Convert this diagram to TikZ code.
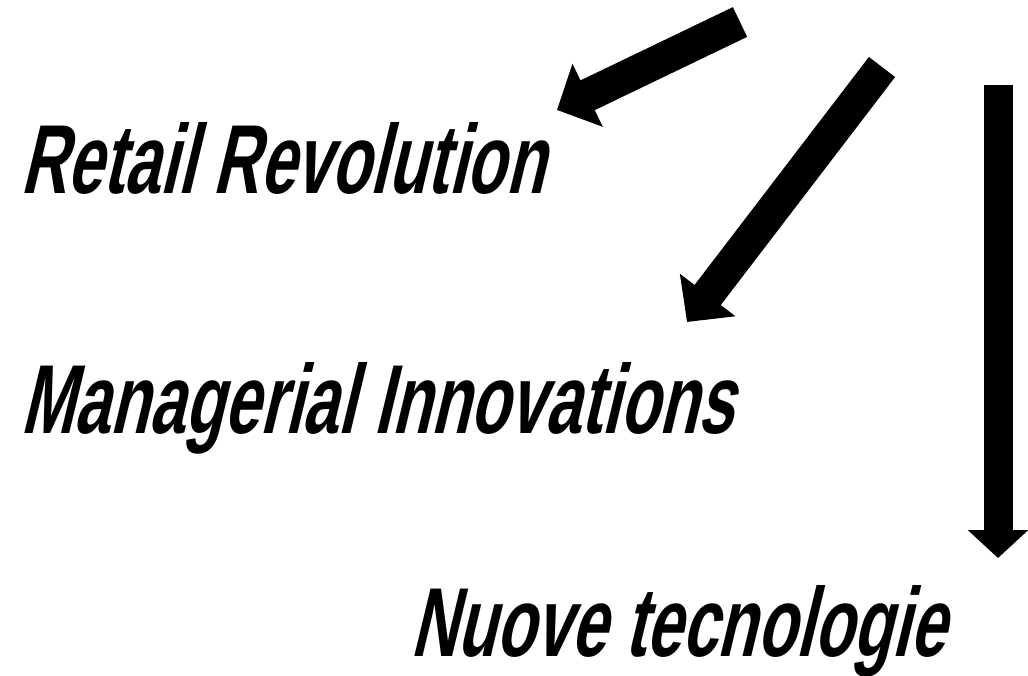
\documentclass[tikz,border=0pt]{standalone}
\usepackage{fontspec}
\newfontfamily\condfont[FakeSlant=0.24,FakeStretch=0.655]{Liberation Sans}
\usetikzlibrary{arrows.meta}
\begin{document}
\begin{tikzpicture}
[
    x=1pt, y=-1pt,
    label text/.style={anchor=base west, inner sep=0pt, font=\condfont\bfseries\fontsize{98}{98}\selectfont},
    big arrow/.style={line width=33pt, -{Triangle[width=68pt,length=34pt]}},
    thin arrow/.style={line width=29pt, -{Triangle[width=59pt,length=28pt]}},
]
\useasboundingbox (0,0) rectangle (1028,676);
\node[label text] (retail) at (20,194) {Retail Revolution};
\node[label text] (managerial) at (20,433) {Managerial Innovations};
\node[label text] (nuove) at (410,656) {Nuove tecnologie};
% arrows
\coordinate (tail1) at (740,22);
\coordinate (tip1) at (557,110);
\coordinate (tail2) at (882,67);
\coordinate (tip2) at (687,322);
\coordinate (tail3) at (998,85);
\coordinate (tip3) at (998,558);
\draw[big arrow] (tail1) -- (tip1);
\draw[big arrow] (tail2) -- (tip2);
\draw[thin arrow] (tail3) -- (tip3);
\end{tikzpicture}
\end{document}
